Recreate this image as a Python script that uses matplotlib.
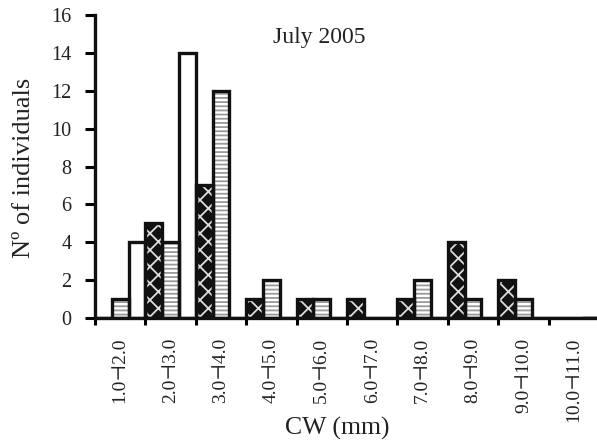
import matplotlib
matplotlib.use("Agg")
import matplotlib.pyplot as plt
import numpy as np

categories = ["1.0\u22a32.0", "2.0\u22a33.0", "3.0\u22a34.0", "4.0\u22a35.0", "5.0\u22a36.0",
              "6.0\u22a37.0", "7.0\u22a38.0", "8.0\u22a39.0", "9.0\u22a310.0", "10.0\u22a311.0"]
dark_values = [0, 5, 7, 1, 1, 1, 1, 4, 2, 0]
light_values = [1, 4, 12, 2, 1, 0, 2, 1, 1, 0]
white_values = [4, 14, 0, 0, 0, 0, 0, 0, 0, 0]
yticks = [0, 2, 4, 6, 8, 10, 12, 14, 16]

plt.rcParams['font.family'] = ['Liberation Serif', 'DejaVu Serif', 'DejaVu Sans']
plt.rcParams['hatch.linewidth'] = 1.3

fig = plt.figure(figsize=(5.97, 4.43), dpi=100)
ax = fig.add_axes([95/597, 1-318/443, 504/597, 303/443])

n = len(categories)
x = np.arange(n)
w = 1/3

def draw(offset, vals, face, hcolor, hatch):
    pos = x + offset
    ax.bar(pos, vals, width=w, align='edge', color=face, edgecolor=hcolor,
           hatch=hatch, linewidth=0, zorder=2)
    ax.bar(pos, vals, width=w, align='edge', facecolor='none', edgecolor='#111111',
           linewidth=2.4, zorder=3)

draw(0, dark_values, '#111111', '#dddddd', 'xx')
draw(w, light_values, 'white', '#999999', '----')
draw(2*w, white_values, 'white', 'white', None)

ax.set_xlim(0, n)
ax.set_ylim(0, 16)
ax.set_yticks(yticks)
ax.set_yticklabels([str(v) for v in yticks], fontsize=14.5, color='#222222')
ax.set_xticks(np.arange(n))
ax.set_xticklabels([])
ax.set_xticks(x + 0.5, minor=True)
ax.set_xticklabels(categories, minor=True, rotation=90, fontsize=14, color='#222222')
ax.tick_params(axis='x', which='minor', length=0, pad=14)
ax.tick_params(axis='x', which='major', direction='out', length=5, width=2.2)
ax.tick_params(axis='y', direction='out', length=7, width=2.2, pad=10)
for s in ['top', 'right']:
    ax.spines[s].set_visible(False)
for s in ['left', 'bottom']:
    ax.spines[s].set_linewidth(2.4)
    ax.spines[s].set_color('#111111')
ax.spines['bottom'].set_zorder(4)

fig.text(24/597, 1-168/443, "N\u00ba of individuals", fontsize=19, rotation=90,
         ha='center', va='center', color='#222222')
fig.text(337/597, 1-428/443, "CW (mm)", fontsize=18.5, ha='center', va='center', color='#222222')
fig.text(319/597, 1-37/443, "July 2005", fontsize=17, ha='center', va='center', color='#222222')

fig.savefig("out.png", dpi=100)
